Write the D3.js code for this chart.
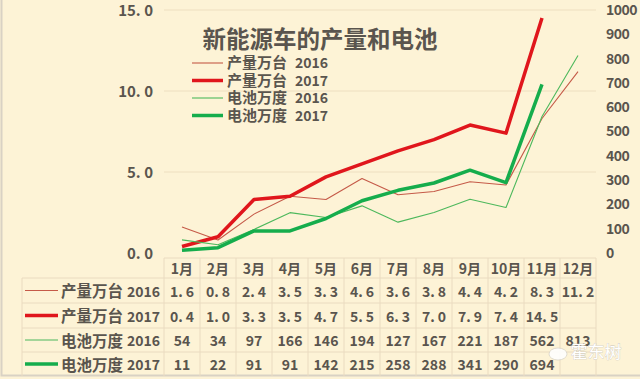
<!DOCTYPE html>
<html><head><meta charset="utf-8">
<script src="https://cdn.jsdelivr.net/npm/d3@7"></script>
<style>
html,body{margin:0;padding:0;background:#fff;}
svg{display:block;}
text{font-family:"Noto Sans CJK SC","Noto Sans",sans-serif;}
</style></head><body>
<script>
const months = ["1月","2月","3月","4月","5月","6月","7月","8月","9月","10月","11月","12月"];
const prod2016 = [1.6,0.8,2.4,3.5,3.3,4.6,3.6,3.8,4.4,4.2,8.3,11.2];
const prod2017 = [0.4,1.0,3.3,3.5,4.7,5.5,6.3,7.0,7.9,7.4,14.5,null];
const batt2016 = [54,34,97,166,146,194,127,167,221,187,562,813];
const batt2017 = [11,22,91,91,142,215,258,288,341,290,694,null];
const leftTicks = [0,5,10,15];
const rightTicks = [0,100,200,300,400,500,600,700,800,900,1000];
const seriesNames = ["产量万台","产量万台","电池万度","电池万度"];
const seriesYears = ["2016","2017","2016","2017"];
const title = "新能源车的产量和电池";

const W=640,H=379;
const svg=d3.select("body").append("svg").attr("width",W).attr("height",H);
svg.append("rect").attr("x",0).attr("y",0).attr("width",W).attr("height",H).attr("fill","#FDF3D6");
svg.append("rect").attr("x",1.5).attr("y",-2).attr("width",W+4).attr("height",377.5)
  .attr("fill","none").attr("stroke","#D9D2C4").attr("stroke-width",2);

const plotL=164, plotR=596, plotTop=10, plotBot=253;
const x=d3.scaleBand().domain(months).range([plotL,plotR]);
const yL=d3.scaleLinear().domain([0,15]).range([plotBot,plotTop]);
const yR=d3.scaleLinear().domain([0,1000]).range([plotBot,plotTop]);
const txt="#5A554E";

svg.append("g").selectAll("line").data(leftTicks.filter(d=>d>0)).join("line")
  .attr("x1",plotL).attr("x2",plotR).attr("y1",d=>yL(d)).attr("y2",d=>yL(d))
  .attr("stroke","#EEDFC0").attr("stroke-width",1);

const fmt1=d=>d3.format(".1f")(d).replace(".",". ");
const la=svg.append("g").attr("transform",`translate(153,1)`)
  .call(d3.axisLeft(yL).tickValues(leftTicks).tickSize(0).tickPadding(0).tickFormat(fmt1));
la.select(".domain").remove();
la.selectAll("text").attr("fill",txt).attr("font-size",15).attr("font-weight","bold")
  .attr("font-family","'Noto Sans CJK SC',sans-serif");

const ra=svg.append("g").attr("transform",`translate(606,0)`)
  .call(d3.axisRight(yR).tickValues(rightTicks).tickSize(0).tickPadding(0).tickFormat(d3.format("d")));
ra.select(".domain").remove();
ra.selectAll("text").attr("fill",txt).attr("font-size",14).attr("font-weight","bold")
  .attr("font-family","'Liberation Sans',Arial,sans-serif").attr("letter-spacing","-0.5");

const styles=[
  {data:prod2016,y:yL,color:"#C55A48",w:1.1},
  {data:prod2017,y:yL,color:"#E0161C",w:3.5},
  {data:batt2016,y:yR,color:"#4DB85C",w:1.1},
  {data:batt2017,y:yR,color:"#15AD4C",w:3.5}
];
styles.forEach(s=>{
  const line=d3.line().defined(d=>d!=null).x((d,i)=>x(months[i])+x.bandwidth()/2).y(d=>s.y(d));
  svg.append("path").datum(s.data).attr("d",line).attr("fill","none")
    .attr("stroke",s.color).attr("stroke-width",s.w).attr("stroke-linejoin","round");
});

svg.append("text").attr("x",320).attr("y",48).attr("text-anchor","middle")
  .attr("font-size",23.5).attr("font-weight","bold").attr("fill",txt).text(title);

styles.forEach((s,i)=>{
  const yy=63+i*17.5;
  svg.append("line").attr("x1",192).attr("x2",223).attr("y1",yy).attr("y2",yy)
    .attr("stroke",s.color).attr("stroke-width",s.w);
  svg.append("text").attr("x",227).attr("y",yy).attr("dy","0.36em")
    .attr("font-size",15).attr("font-weight","bold").attr("fill",txt).text(seriesNames[i]);
  svg.append("text").attr("x",295).attr("y",yy).attr("dy","0.36em")
    .attr("font-size",14).attr("font-weight","bold").attr("fill",txt).text(seriesYears[i]);
});

const rowY=[258,278,303,328,352,376];
const tg=svg.append("g");
const gridC="#EADBC0";
tg.append("line").attr("x1",plotL).attr("x2",plotR).attr("y1",rowY[0]).attr("y2",rowY[0]).attr("stroke",gridC);
rowY.slice(1,5).forEach(y=>tg.append("line").attr("x1",22).attr("x2",plotR).attr("y1",y).attr("y2",y).attr("stroke",gridC));
const vx=months.map(m=>x(m)).concat([plotR]);
vx.forEach(v=>tg.append("line").attr("x1",v).attr("x2",v).attr("y1",rowY[0]).attr("y2",rowY[5]).attr("stroke",gridC));
tg.append("line").attr("x1",22).attr("x2",22).attr("y1",rowY[1]).attr("y2",rowY[5]).attr("stroke",gridC);

tg.selectAll("text.m").data(months).join("text")
  .attr("x",d=>x(d)+x.bandwidth()/2).attr("y",(rowY[0]+rowY[1])/2+1).attr("dy","0.36em")
  .attr("text-anchor","middle").attr("font-size",14).attr("font-weight","bold").attr("fill",txt).text(d=>d);

const rowsData=[prod2016,prod2017,batt2016,batt2017];
rowsData.forEach((arr,r)=>{
  const cy=(rowY[r+1]+rowY[r+2])/2+1;
  const s=styles[r];
  tg.append("line").attr("x1",25).attr("x2",58).attr("y1",cy-1).attr("y2",cy-1)
    .attr("stroke",s.color).attr("stroke-width",s.w);
  tg.append("text").attr("x",61).attr("y",cy).attr("dy","0.36em")
    .attr("font-size",15.5).attr("font-weight","bold").attr("fill",txt).text(seriesNames[r]);
  tg.append("text").attr("x",160).attr("y",cy).attr("dy","0.36em").attr("text-anchor","end")
    .attr("font-size",14).attr("font-weight","bold").attr("fill",txt).text(seriesYears[r]);
  arr.forEach((v,i)=>{
    if(v==null) return;
    tg.append("text").attr("x",x(months[i])+x.bandwidth()/2).attr("y",cy).attr("dy","0.36em")
      .attr("text-anchor","middle").attr("font-size",14).attr("font-weight","bold").attr("fill",txt)
      .text(r<2?fmt1(v):d3.format("d")(v));
  });
});

svg.append("ellipse").attr("cx",558).attr("cy",354).attr("rx",9).attr("ry",6)
  .attr("fill","#FFFFFF").attr("stroke","#C8C4BC").attr("stroke-width",0.6).attr("opacity",0.9);
svg.append("text").attr("x",596).attr("y",352).attr("text-anchor","middle").attr("dy","0.36em")
  .attr("font-size",17).attr("fill","#FFFFFF").attr("stroke","#C8C4BC").attr("stroke-width",0.6)
  .attr("paint-order","stroke").text("霍东树");
</script>
</body></html>
